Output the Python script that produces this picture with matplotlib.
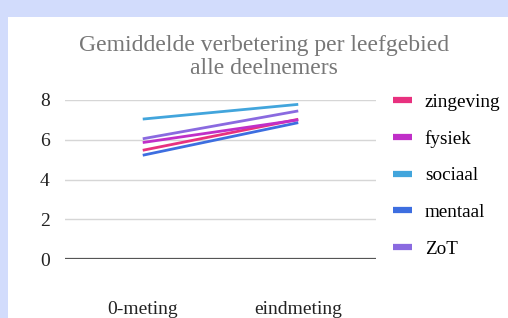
import matplotlib.pyplot as plt
from matplotlib.patches import Rectangle

# data
momenten = ["0-meting", "eindmeting"]
zingeving = [5.47, 7.03]
fysiek = [5.86, 7.0]
sociaal = [7.04, 7.78]
mentaal = [5.22, 6.86]
zot = [6.05, 7.45]

series = [
    ("zingeving", zingeving, "#e8317f"),
    ("fysiek", fysiek, "#c02fc8"),
    ("sociaal", sociaal, "#42a5dc"),
    ("mentaal", mentaal, "#3d6ee0"),
    ("ZoT", zot, "#8a6ae0"),
]

plt.rcParams['font.family'] = ['Liberation Serif', 'DejaVu Serif']

fig = plt.figure(figsize=(5.08, 3.18), dpi=100, facecolor="#d2dcfc")
fig.patches.append(Rectangle((8 / 508, 0), 1, 1 - 17 / 318, transform=fig.transFigure,
                             facecolor="white", edgecolor="none", zorder=-10))

ax = fig.add_axes([65 / 508, 59 / 318, 311 / 508, 159 / 318])
ax.set_facecolor("none")

x = list(range(len(momenten)))
for name, vals, col in series:
    ax.plot(x, vals, color=col, lw=2, label=name, solid_capstyle="butt", zorder=3)

ax.set_xlim(-0.5, 1.5)
ax.set_ylim(0, 8)
ax.set_yticks([0, 2, 4, 6, 8])
ax.set_xticks(x)
ax.set_xticklabels(momenten)
ax.grid(axis="y", color="#d6d6d6", lw=1)
ax.axhline(0, color="#555555", lw=1.6, zorder=2)
for s in ax.spines.values():
    s.set_visible(False)
ax.tick_params(axis="y", length=0, pad=11, labelsize=14, labelcolor="#222222")
ax.tick_params(axis="x", length=0, pad=30, labelsize=14, labelcolor="#222222")

fig.text(0.5 + 10 / 508, 1 - 57 / 318, "Gemiddelde verbetering per leefgebied\nalle deelnemers",
         ha="center", va="center", fontsize=17, color="#777777", linespacing=1.08)

leg = ax.legend(loc="upper left", bbox_to_anchor=(1.0, 1.15), frameon=False,
                fontsize=13.8, handlelength=1.0, handletextpad=0.65,
                labelspacing=1.0, borderaxespad=0.5)
for h in leg.get_lines():
    h.set_linewidth(4.5)

fig.savefig("out.png", dpi=100, facecolor=fig.get_facecolor())
